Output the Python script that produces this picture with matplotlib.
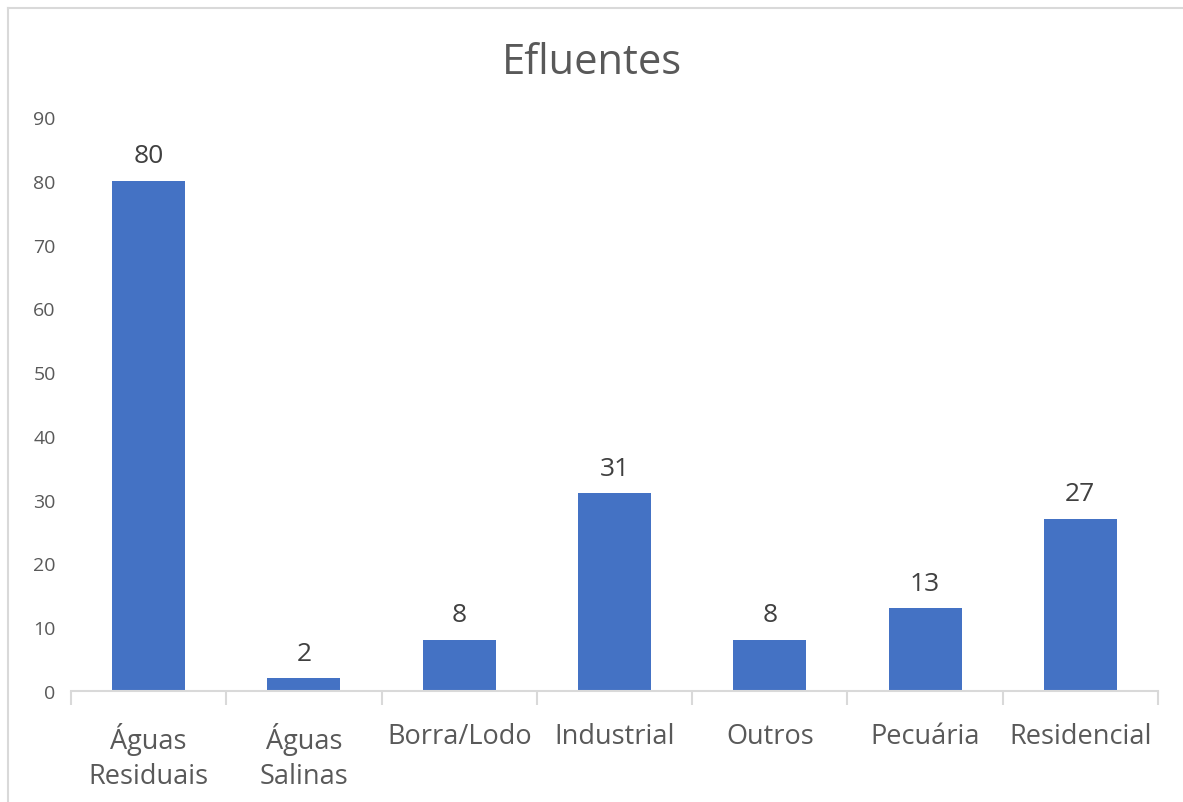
import matplotlib
matplotlib.use("Agg")
import matplotlib.pyplot as plt
from matplotlib.lines import Line2D

categories = ["Águas\nResiduais", "Águas\nSalinas", "Borra/Lodo", "Industrial", "Outros", "Pecuária", "Residencial"]
values = [80, 2, 8, 31, 8, 13, 27]
yticks = [0, 10, 20, 30, 40, 50, 60, 70, 80, 90]
title = "Efluentes"

BAR = "#4472C4"
TEXT = "#595959"
GRID = "#D9D9D9"

plt.rcParams["font.family"] = ["Open Sans", "DejaVu Sans"]

W, H = 1183, 803
fig = plt.figure(figsize=(W / 100, H / 100), dpi=100)
fig.patch.set_facecolor("white")

# outer chart frame: top and left edges
fx, fy = 7.5 / W, 1 - 8.5 / H
fig.add_artist(Line2D([fx, 1.0], [fy, fy], transform=fig.transFigure, color=GRID, linewidth=1.5))
fig.add_artist(Line2D([fx, fx], [0.0, fy], transform=fig.transFigure, color=GRID, linewidth=1.5))

ax = fig.add_axes([71 / W, 1 - 692 / H, (1158 - 71) / W, (692 - 118) / H])
x = list(range(len(categories)))
bars = ax.bar(x, values, width=0.47, color=BAR, zorder=2)

ax.set_xlim(-0.5, len(categories) - 0.5)
ax.set_ylim(0, 90)
ax.set_yticks(yticks)
ax.set_yticklabels([str(t) for t in yticks], color=TEXT, fontsize=14)
ax.tick_params(axis="y", length=0, pad=11)

ax.set_xticks(x)
ax.set_xticklabels(categories, color=TEXT, fontsize=19.5, linespacing=1.35)
ax.tick_params(axis="x", length=0, pad=22)
# tick marks between categories
ax.set_xticks([i - 0.5 for i in range(len(categories) + 1)], minor=True)
ax.tick_params(axis="x", which="minor", length=10, width=1.5, color=GRID)

for s in ["top", "right", "left"]:
    ax.spines[s].set_visible(False)
ax.spines["bottom"].set_color(GRID)
ax.spines["bottom"].set_linewidth(1.5)

for xi, v in zip(x, values):
    ax.annotate(str(v), (xi, v), xytext=(0, 9), textcoords="offset points",
                ha="center", va="bottom", fontsize=19, color="#404040")

fig.text((500 + 683) / 2 / W, 1 - 63 / H, title, ha="center", va="center",
         fontsize=30, color=TEXT)

fig.savefig("out.png", dpi=100)
